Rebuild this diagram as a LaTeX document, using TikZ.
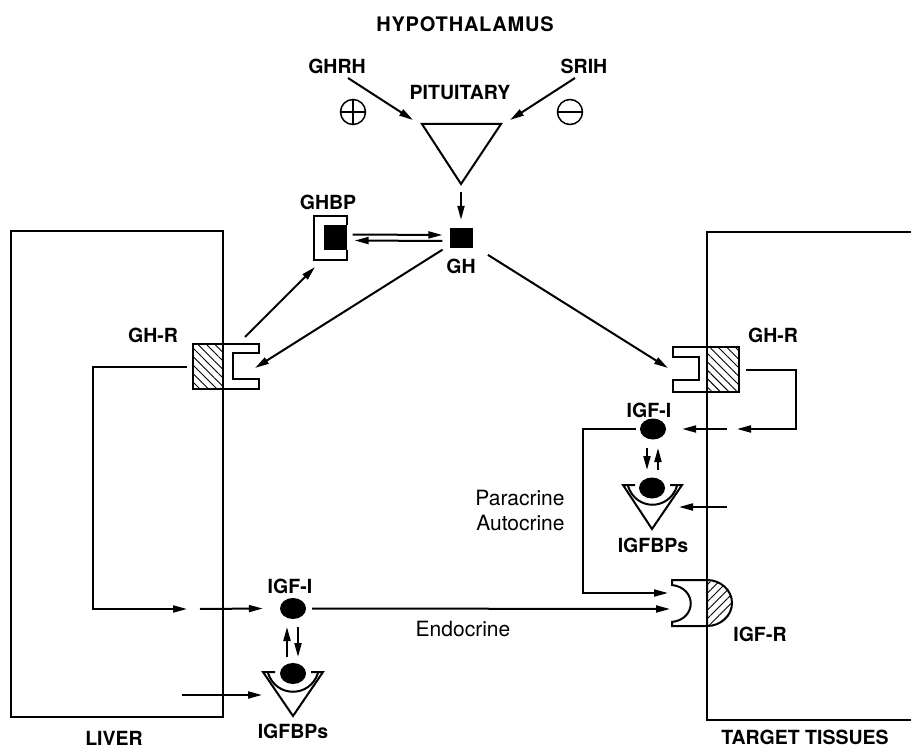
\documentclass[tikz,border=0pt]{standalone}
\usepackage{fontspec}
\setmainfont{TeX Gyre Heros}
\usetikzlibrary{arrows.meta,positioning,patterns.meta,shapes.geometric}
\tikzset{
  lbl/.style={font=\fontsize{19.5}{21}\selectfont\bfseries, inner sep=0pt},
  txt/.style={font=\fontsize{21}{23}\selectfont, inner sep=0pt},
  ln/.style={line width=2pt},
  arr/.style={ln, -{Triangle[length=14pt,width=7pt]}},
  blob/.style={ellipse, fill=black, minimum width=26pt, minimum height=21pt, inner sep=0pt},
  ghsq/.style={rectangle, fill=black, minimum width=23pt, minimum height=20pt, inner sep=0pt},
  sign/.style={circle, draw, line width=1.5pt, minimum size=25pt, inner sep=0pt},
  hatchl/.style={rectangle, draw, ln, inner sep=0pt, pattern={Lines[angle=-45,distance=6pt,line width=0.9pt]}},
  hatchr/.style={ln, pattern={Lines[angle=45,distance=6pt,line width=0.9pt]}},
}
\begin{document}
\begin{tikzpicture}[x=1pt,y=-1pt,line join=miter]
\useasboundingbox (0,0) rectangle (911,749);
% labels
\node[lbl, font=\fontsize{20}{22}\selectfont\bfseries\addfontfeatures{LetterSpace=4}] (hypo) at (465,24) {HYPOTHALAMUS};
\node[lbl] (ghrh) at (337,66) {GHRH};
\node[lbl] (srih) at (584,66) {SRIH};
\node[lbl] (pitlbl) at (460,93) {PITUITARY};
\node[sign] (plus) at (353,112) {};
\node[sign] (minus) at (570,112) {};
\draw[line width=1.5pt] (plus.north) -- (plus.south) (plus.west) -- (plus.east);
\draw[line width=1.5pt] (minus.west) -- (minus.east);
% pituitary
\coordinate (pitL) at (422,124);
\coordinate (pitR) at (501,124);
\coordinate (pitB) at (461,184);
\draw[ln] (pitL) -- (pitR) -- (pitB) -- cycle;
\draw[arr] (348,78) -- (413,120);
\draw[arr] (575,78) -- (510,120);
% GH and GHBP
\node[ghsq] (GH) at (461,238) {};
\node[lbl, below=11pt of GH] (ghlbl) {GH};
\draw[arr] ([yshift=-8pt]pitB) -- ([yshift=8pt]GH.north);
\node[ghsq, minimum width=23pt, minimum height=25pt] (GHBP) at (335,237.5) {};
\draw[ln] (347,225) -- (347,216) -- (314,216) -- (314,260) -- (347,260) -- (347,250);
\node[lbl] (ghbplbl) at (328,202) {GHBP};
\draw[arr] ([xshift=6pt,yshift=3pt]GHBP.east) -- ([xshift=-7pt,yshift=3pt]GH.west);
\draw[arr] ([xshift=-7pt,yshift=-3pt]GH.west) -- ([xshift=8pt,yshift=-3pt]GHBP.east);
% liver
\draw[ln] (11,231) rectangle (223,717);
\node[lbl] (liver) at (114,738) {LIVER};
\node[hatchl, minimum width=30pt, minimum height=45pt] (GHRl) at (208,366.5) {};
\draw[ln] (223,344) -- (259,344) -- (259,353) -- (233,353) -- (233,379) -- (259,379) -- (259,389) -- (223,389);
\coordinate (GHRlin) at (255,368);
\node[lbl] (ghrlbl) at (153,335) {GH-R};
\draw[arr, shorten <=8pt] (GH) -- (GHRlin);
\draw[arr] (245,337) -- (315,267);
\draw[arr] ([xshift=-6pt]GHRl.west) -| (93,609) -- (187,609);
\node[blob] (IGFl) at (293,608.5) {};
\node[lbl] (igflbl) at (290,586) {IGF-I};
\draw[arr] (200,609) -- ([xshift=-17pt]IGFl.west);
\node[blob] (BPl) at (293,673.5) {};
\draw[arr] (287,657) -- (287,627);
\draw[arr] (298,627) -- (298,657);
\draw[ln] (275,672) -- (263,672) -- (293,716) -- (323,672) -- (311,672);
\draw[ln] (268,673) .. controls (276,698) and (310,698) .. (318,673);
\node[lbl] (bplbl) at (293,731) {IGFBPs};
\draw[arr] (182,695) -- (262,695);
% target tissues
\draw[ln] (915,232) -- (707,232) -- (707,720) -- (915,720);
\node[lbl] (target) at (805,737) {TARGET TISSUES};
\node[hatchl, minimum width=32pt, minimum height=45pt] (GHRr) at (723,369.5) {};
\draw[ln] (707,347) -- (673,347) -- (673,357) -- (699,357) -- (699,380) -- (673,380) -- (673,392) -- (707,392);
\coordinate (GHRrin) at (668,368);
\node[lbl] (ghrrlbl) at (773,335) {GH-R};
\draw[arr, shorten <=18pt] (GH) -- (GHRrin);
\draw[arr] ([xshift=6pt]GHRr.east) -| (796,429) -- (737,429);
\node[blob] (IGFr) at (653,429) {};
\node[lbl] (igfrlbl) at (649,410) {IGF-I};
\draw[arr] (727,429) -- ([xshift=16pt]IGFr.east);
\node[blob] (BPr) at (652,488) {};
\draw[arr] (647,448) -- (647,470);
\draw[arr] (658,470) -- (658,448);
\draw[ln] (635,485) -- (623,485) -- (652,529) -- (682,485) -- (670,485);
\draw[ln] (628,486) .. controls (636,511) and (669,511) .. (677,486);
\node[lbl] (bprlbl) at (653,545) {IGFBPs};
\draw[arr] (727,507) -- (679,507);
% IGF receptor
\draw[hatchr] (707,580) arc[start angle=90, end angle=-90, x radius=25pt, y radius=23pt] -- cycle;
\draw[ln] (707,580) -- (672,580) -- (672,585) .. controls (697,588) and (697,619) .. (672,622) -- (672,626) -- (707,626);
\node[lbl] (igfrrlbl) at (760,634) {IGF-R};
% paracrine / endocrine routes
\draw[arr] ([xshift=-4pt]IGFr.west) -- (583,429) -- (583,593) -- (668,593);
\node[txt, align=right] (para) at (520,511) {Paracrine\\[2pt]Autocrine};
\draw[arr] ([xshift=6pt]IGFl.east) -- (670,609);
\node[txt] (endo) at (463,629) {Endocrine};
\end{tikzpicture}
\end{document}
